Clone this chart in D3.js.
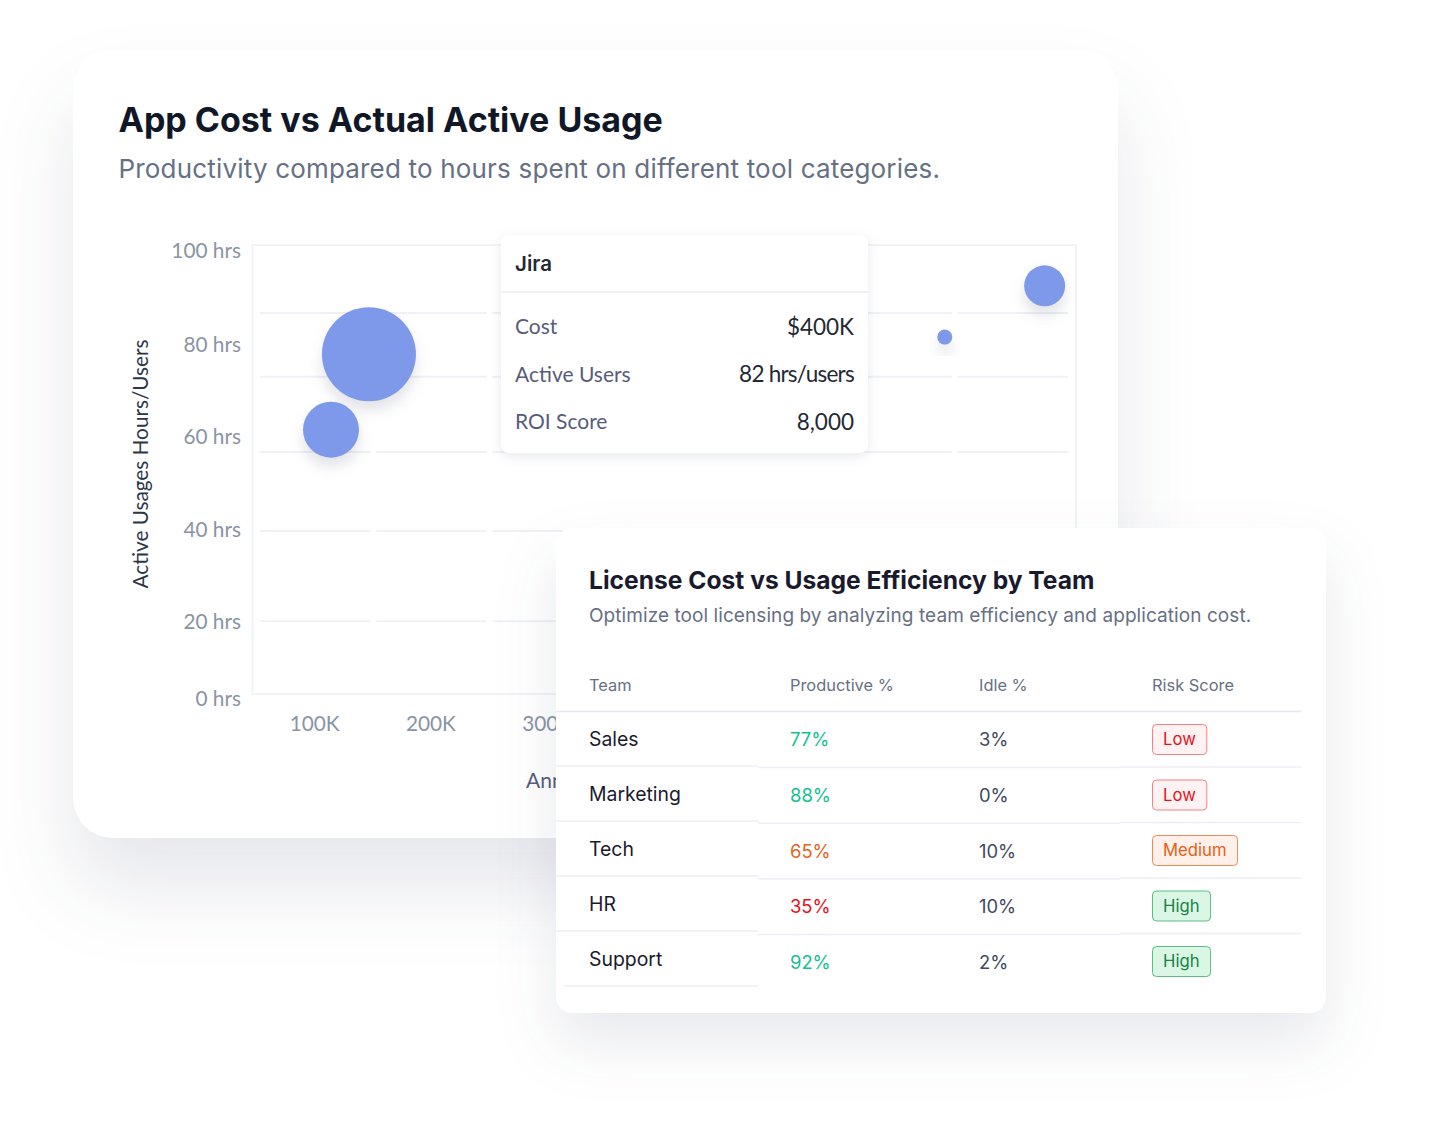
<!DOCTYPE html>
<html>
<head>
<meta charset="utf-8">
<title>App Cost vs Actual Active Usage</title>
<script src="https://d3js.org/d3.v7.min.js"></script>
<style>
  body { margin: 0; background: #fff; }
  svg { display: block; }
  .inter { font-family: Inter, sans-serif; }
  .lato { font-family: Lato, sans-serif; }
</style>
</head>
<body>
<svg id="chart" width="1436" height="1146"></svg>
<script>
// bubble chart data
const costTicks = ["100K", "200K", "300K", "400K", "500K", "600K", "700K"];
const hourTicks = [0, 20, 40, 60, 80, 100];
const gridHours = [20.4, 40, 57, 73.3, 87];
const bubbleCost = [146.5, 113.8, 642.9, 729];
const bubbleHours = [78.2, 61.8, 81.9, 92.8];
const bubbleSize = [100, 35.5, 2.55, 19];

// tooltip
const tipTitle = "Jira";
const tipLabels = ["Cost", "Active Users", "ROI Score"];
const tipValues = ["$400K", "82 hrs/users", "8,000"];

// table
const tableHeaders = ["Team", "Productive %", "Idle %", "Risk Score"];
const teams = ["Sales", "Marketing", "Tech", "HR", "Support"];
const productive = [77, 88, 65, 35, 92];
const idle = [3, 0, 10, 10, 2];
const risk = ["Low", "Low", "Medium", "High", "High"];

const svg = d3.select("#chart");
const defs = svg.append("defs");

function shadow(id, dy, blur, color, opacity) {
  const f = defs.append("filter").attr("id", id)
    .attr("x", "-50%").attr("y", "-50%").attr("width", "200%").attr("height", "220%")
    .attr("color-interpolation-filters", "sRGB");
  f.append("feDropShadow").attr("dx", 0).attr("dy", dy).attr("stdDeviation", blur)
    .attr("flood-color", color).attr("flood-opacity", opacity);
}
shadow("cardShadow", 50, 40, "#1c2550", 0.11);
shadow("card2Shadow", 30, 30, "#1c2550", 0.10);
shadow("tipShadow", 3, 6, "#1c2550", 0.10);
shadow("dotShadow", 9, 7, "#1c2550", 0.13);

// scales, the y axis labels are not evenly spaced in the picture
const x = d3.scaleLinear().domain([100, 200]).range([315, 431]);
const band = d3.scaleBand().domain(costTicks).range([257, 1071]).paddingInner(0.05).paddingOuter(0.025);
const y = d3.scaleLinear().domain(hourTicks).range([700, 623, 531, 438, 346, 252]);
const r = d3.scaleSqrt().domain([0, 100]).range([0, 47]);

// main card
svg.append("rect").attr("x", 73).attr("y", 50).attr("width", 1045).attr("height", 788)
  .attr("rx", 40).attr("fill", "#fff").attr("filter", "url(#cardShadow)");

svg.append("text").attr("class", "inter").attr("x", 118.5).attr("y", 131.5)
  .attr("font-size", 34).attr("font-weight", 700).attr("fill", "#101828")
  .text("App Cost vs Actual Active Usage");
svg.append("text").attr("class", "inter").attr("x", 118.5).attr("y", 178)
  .attr("font-size", 26).attr("letter-spacing", 0.18).attr("fill", "#667085")
  .text("Productivity compared to hours spent on different tool categories.");

// plot frame
const frameTop = y(101.5), frameBottom = y(1.56);
svg.append("path")
  .attr("d", `M252.5,${frameBottom}V${frameTop}H1076V${frameBottom}M252.5,${frameBottom}H1076`)
  .attr("fill", "none").attr("stroke", "#f1f3f7").attr("stroke-width", 2);

// broken grid lines, one piece per category
const grid = svg.append("g");
gridHours.forEach(h => {
  grid.selectAll(null).data(costTicks).join("line")
    .attr("x1", d => band(d)).attr("x2", d => band(d) + band.bandwidth())
    .attr("y1", y(h)).attr("y2", y(h))
    .attr("stroke", "#eff1f6").attr("stroke-width", 2);
});

svg.append("g").attr("class", "lato").selectAll("text").data(hourTicks).join("text")
  .attr("x", 241).attr("y", d => y(d) - 1).attr("dy", "0.35em").attr("text-anchor", "end")
  .attr("font-size", 20.8).attr("fill", "#8a94a6").text(d => d + " hrs");

// labels from 400K on sit fully behind the table card, so only the visible ones get drawn
svg.append("g").attr("class", "lato").selectAll("text").data(costTicks.slice(0, 3)).join("text")
  .attr("x", d => band(d) + band.bandwidth() / 2 - 0.5).attr("y", 731).attr("text-anchor", "middle")
  .attr("font-size", 20.8).attr("fill", "#8a94a6").text(d => d);

svg.append("text").attr("class", "lato")
  .attr("transform", "translate(148,464) rotate(-90)").attr("text-anchor", "middle")
  .attr("font-size", 20.75).attr("fill", "#2d3748").text("Active Usages Hours/Users");
// axis title is cut by the table card in the picture
svg.append("text").attr("class", "lato").attr("x", 526).attr("y", 788)
  .attr("font-size", 21).attr("fill", "#575c7c").text("Annual");

svg.append("g").selectAll("circle").data(bubbleCost).join("circle")
  .attr("cx", d => x(d)).attr("cy", (d, i) => y(bubbleHours[i])).attr("r", (d, i) => r(bubbleSize[i]))
  .attr("fill", "#7f99ea").attr("filter", "url(#dotShadow)");

// tooltip
const tip = svg.append("g").attr("class", "lato");
tip.append("rect").attr("x", 501).attr("y", 235).attr("width", 367).attr("height", 218)
  .attr("rx", 8).attr("fill", "#fff").attr("filter", "url(#tipShadow)");
tip.append("line").attr("x1", 501).attr("x2", 868).attr("y1", 292).attr("y2", 292)
  .attr("stroke", "#f0f1f6").attr("stroke-width", 2);
tip.append("text").attr("class", "inter").attr("x", 515).attr("y", 271)
  .attr("font-size", 20.5).attr("font-weight", 600).attr("fill", "#1f2933").text(tipTitle);
const tipY = d3.scaleLinear().domain([0, 2]).range([327, 422]);
tip.selectAll(".tl").data(tipLabels).join("text").attr("class", "tl")
  .attr("x", 515).attr("y", (d, i) => tipY(i)).attr("dy", "0.35em")
  .attr("font-size", 21).attr("fill", "#575c7c").text(d => d);
tip.selectAll(".tv").data(tipValues).join("text").attr("class", "tv")
  .attr("x", 854).attr("y", (d, i) => tipY(i)).attr("dy", "0.35em").attr("text-anchor", "end")
  .attr("font-size", 22.5).attr("letter-spacing", (d, i) => i === 1 ? -0.75 : 0)
  .attr("fill", "#1f2933").text(d => d);

// table card
const card = svg.append("g").attr("class", "inter");
card.append("rect").attr("x", 556).attr("y", 528).attr("width", 770).attr("height", 485)
  .attr("rx", 16).attr("fill", "#fff").attr("filter", "url(#card2Shadow)");
card.append("text").attr("x", 589).attr("y", 589)
  .attr("font-size", 24.6).attr("font-weight", 700).attr("fill", "#1a1a2e")
  .text("License Cost vs Usage Efficiency by Team");
card.append("text").attr("x", 589).attr("y", 621.5)
  .attr("font-size", 19).attr("letter-spacing", 0.07).attr("fill", "#667085")
  .text("Optimize tool licensing by analyzing team efficiency and application cost.");

const colX = [589, 790, 979, 1152];
card.selectAll(".th").data(tableHeaders).join("text").attr("class", "th")
  .attr("x", (d, i) => colX[i]).attr("y", 685).attr("dy", "0.35em")
  .attr("font-size", 16.4).attr("fill", "#667085").text(d => d);
card.append("line").attr("x1", 556).attr("x2", 1301).attr("y1", 711.5).attr("y2", 711.5)
  .attr("stroke", "#e6e7f0").attr("stroke-width", 1.5);

// the three column groups have slightly different row heights
const row = [0, 1, 2, 3, 4];
const y1 = d3.scaleLinear().domain([0, 4]).range([739, 959]);
const y2 = d3.scaleLinear().domain([0, 4]).range([740, 962.5]);
const y3 = d3.scaleLinear().domain([0, 4]).range([739.5, 961.5]);

function rowLines(x1, x2, ys) {
  card.append("g").selectAll("line").data(ys).join("line")
    .attr("x1", (d, i) => (i === 4 ? x1 + 8 : x1)).attr("x2", x2)
    .attr("y1", d => d).attr("y2", d => d)
    .attr("stroke", "#eeeef6").attr("stroke-width", 1.5);
}
rowLines(556, 758, row.map(i => y1(i) + 27));
rowLines(758, 1120, row.slice(0, 4).map(i => y2(i) + 27.5));
rowLines(1120, 1301, row.slice(0, 4).map(i => y3(i) + 27.5));

card.selectAll(".team").data(teams).join("text").attr("class", "team")
  .attr("x", colX[0]).attr("y", (d, i) => y1(i)).attr("dy", "0.35em")
  .attr("font-size", 19.4).attr("font-weight", 400).attr("fill", "#1a1a2e").text(d => d);

const prodColor = d => d < 50 ? "#e8111a" : d < 70 ? "#e8641e" : "#14c08f";
card.selectAll(".prod").data(productive).join("text").attr("class", "prod")
  .attr("x", colX[1]).attr("y", (d, i) => y2(i)).attr("dy", "0.35em")
  .attr("font-size", 18.4).attr("fill", prodColor).text(d => d + "%");

card.selectAll(".idle").data(idle).join("text").attr("class", "idle")
  .attr("x", colX[2]).attr("y", (d, i) => y2(i)).attr("dy", "0.35em")
  .attr("font-size", 18.4).attr("fill", "#3f4a5f").text(d => d + "%");

const riskStyle = {
  Low: { fill: "#fef2f2", stroke: "#f77f83", text: "#e8111a" },
  Medium: { fill: "#fff1ea", stroke: "#ef8a57", text: "#e85d12" },
  High: { fill: "#d9f7e4", stroke: "#5cbd83", text: "#1a8245" }
};
const badges = card.selectAll(".badge").data(risk).join("g").attr("class", "badge");
badges.append("rect").attr("y", (d, i) => y3(i) - 15).attr("x", colX[3] + 0.5).attr("height", 30)
  .attr("rx", 4).attr("fill", d => riskStyle[d].fill).attr("stroke", d => riskStyle[d].stroke);
badges.append("text").attr("x", colX[3] + 11).attr("y", (d, i) => y3(i)).attr("dy", "0.35em")
  .attr("font-size", 16.7).attr("fill", d => riskStyle[d].text).text(d => d);
badges.each(function () {
  const g = d3.select(this);
  g.select("rect").attr("width", g.select("text").node().getComputedTextLength() + 21.5);
});
</script>
</body>
</html>
